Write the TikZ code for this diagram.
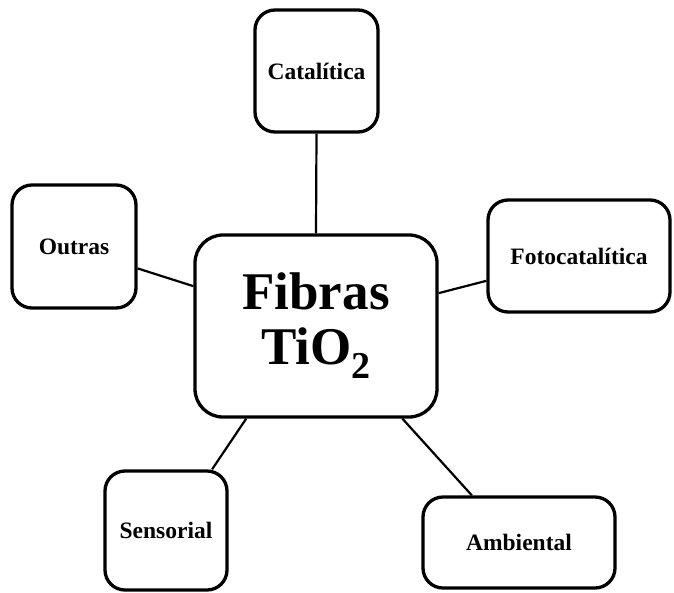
\documentclass[tikz,border=0pt]{standalone}
\usepackage{fontspec}
\setmainfont{Liberation Serif}
\begin{document}
\begin{tikzpicture}[x=1pt,y=-1pt,
  box/.style={draw=black,line width=3.3pt,rounded corners=20pt,fill=white,inner sep=0pt,
    font=\fontsize{23.5}{25}\selectfont\bfseries},
  link/.style={draw=black,line width=2.2pt}]
\useasboundingbox[fill=white] (0,0) rectangle (674,592);
\node[box,rounded corners=28pt,minimum width=242pt,minimum height=182pt,align=center,
  font=\fontsize{53}{55}\selectfont\bfseries] (c) at (316,326)
  {Fibras\\TiO\raisebox{-14pt}{\fontsize{38}{38}\selectfont 2}};
\node[box,minimum width=123pt,minimum height=122pt] (cat) at (316.5,71) {Catalítica};
\node[box,minimum width=124pt,minimum height=123pt] (o) at (74,246.5) {Outras};
\node[box,minimum width=182pt,minimum height=112pt] (f) at (579,256) {Fotocatalítica};
\node[box,minimum width=122pt,minimum height=119pt] (s) at (166,530.5) {Sensorial};
\node[box,minimum width=192pt,minimum height=91pt] (a) at (519,542.5) {Ambiental};
\draw[link] (cat.south) -- (c.north);
\draw[link] (o.-19) -- (c.162);
\draw[link] (f.195) -- (c.15);
\draw[link] (s.53.5) -- (c.233);
\draw[link] (a.135) -- (c.-47);
\end{tikzpicture}
\end{document}
